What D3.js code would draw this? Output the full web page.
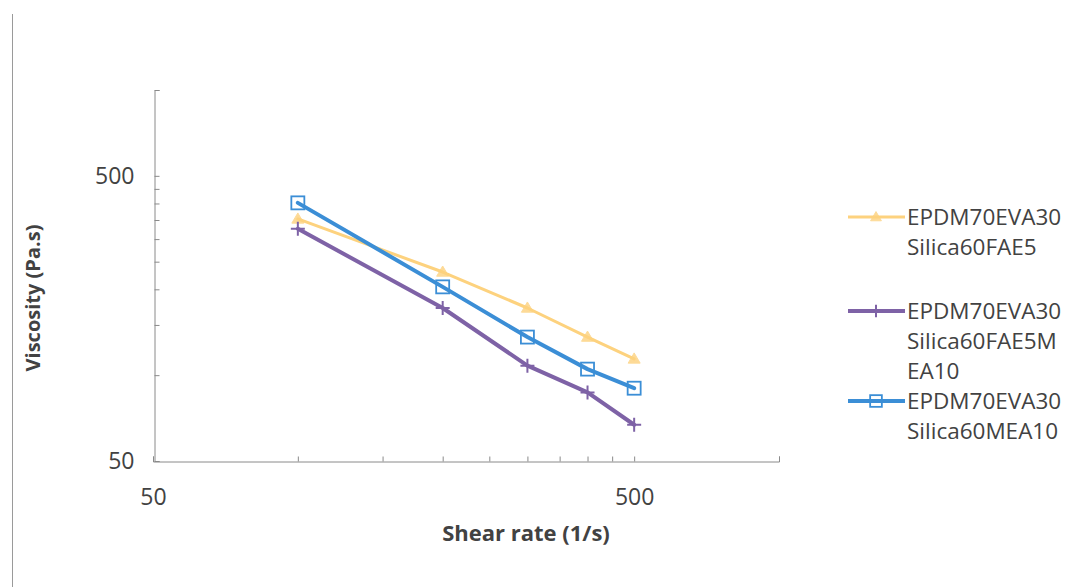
<!DOCTYPE html>
<html>
<head>
<meta charset="utf-8">
<script src="https://cdn.jsdelivr.net/npm/d3@7"></script>
<style>
  html, body { margin: 0; padding: 0; background: #fff; }
  svg { display: block; font-family: "Open Sans", "Noto Sans", sans-serif; }
</style>
</head>
<body>
<svg id="chart" width="1068" height="587"></svg>
<script>
// Shear rates (1/s) at which viscosity was measured
const shearRates = [100, 200, 300, 400, 500];

// Series names (legend lines) and viscosity values in Pa.s
const seriesNames = [
  ["EPDM70EVA30", "Silica60FAE5"],
  ["EPDM70EVA30", "Silica60FAE5M", "EA10"],
  ["EPDM70EVA30", "Silica60MEA10"]
];
const viscFAE5      = [353, 230, 172, 136, 114];
const viscFAE5MEA10 = [326, 172, 108, 87, 67];
const viscMEA10     = [402, 204, 136, 105, 90];

// Axis ticks: labelled majors and Excel-style minor ticks on the log axes
const majorTicks = [50, 500];
const minorTicks = [100, 150, 200, 250, 300, 350, 400, 450, 1000];
const axisMin = 50, axisMax = 1000;

const xTitle = "Shear rate (1/s)";
const yTitle = "Viscosity (Pa.s)";

const styles = [
  { color: "#fdd27e", width: 3, marker: "triangle" },
  { color: "#7e62a6", width: 4, marker: "plus" },
  { color: "#3b8ed6", width: 4, marker: "square" }
];
const seriesValues = [viscFAE5, viscFAE5MEA10, viscMEA10];

const svg = d3.select("#chart");
const textColor = "#424242";
const axisColor = "#8a8a8a";

// left border rule
svg.append("line")
  .attr("x1", 12.5).attr("x2", 12.5).attr("y1", 14).attr("y2", 587)
  .attr("stroke", "#9a9a9a").attr("stroke-width", 1);

const x = d3.scaleLog().domain([axisMin, axisMax]).range([153, 779]);
const y = d3.scaleLog().domain([axisMin, axisMax]).range([461, 90]);

const allTicks = majorTicks.concat(minorTicks);
const fmt = d => majorTicks.includes(d) ? String(d) : "";

// X axis
const gx = svg.append("g").attr("transform", "translate(0,461.5)")
  .call(d3.axisBottom(x).tickValues(allTicks).tickFormat(fmt)
    .tickSizeInner(-5).tickSizeOuter(-5).tickPadding(27));
gx.select(".domain").attr("stroke", axisColor);
gx.selectAll(".tick line").attr("stroke", axisColor);
gx.selectAll(".tick text").attr("fill", textColor)
  .style("font-size", "23px").style("font-family", "Open Sans");

// Y axis
const gy = svg.append("g").attr("transform", "translate(154.5,0)")
  .call(d3.axisLeft(y).tickValues(allTicks).tickFormat(fmt)
    .tickSizeInner(-5).tickSizeOuter(-5).tickPadding(20));
gy.select(".domain").attr("stroke", axisColor);
gy.selectAll(".tick line").attr("stroke", axisColor);
gy.selectAll(".tick text").attr("fill", textColor)
  .style("font-size", "23px").style("font-family", "Open Sans");

// Axis titles
svg.append("text")
  .attr("x", 526).attr("y", 541)
  .attr("text-anchor", "middle")
  .attr("fill", textColor)
  .style("font-size", "22px").style("font-weight", "bold")
  .text(xTitle);

svg.append("text")
  .attr("transform", "translate(40,298) rotate(-90)")
  .attr("text-anchor", "middle")
  .attr("fill", textColor)
  .style("font-size", "20px").style("font-weight", "bold")
  .text(yTitle);

// Marker shapes
function drawMarker(g, type, color, cx, cy, scale) {
  const s = scale || 1;
  if (type === "triangle") {
    const h = 6 * s;
    g.append("path")
      .attr("d", `M${cx},${cy - h} L${cx + h},${cy + h * 0.7} L${cx - h},${cy + h * 0.7}Z`)
      .attr("fill", color).attr("stroke", color).attr("stroke-width", 1).attr("opacity", 0.8);
  } else if (type === "plus") {
    const h = 7 * s;
    g.append("path")
      .attr("d", `M${cx - h},${cy} L${cx + h},${cy} M${cx},${cy - h} L${cx},${cy + h}`)
      .attr("stroke", color).attr("stroke-width", 2);
  } else if (type === "square") {
    const h = 6.5 * s;
    g.append("rect")
      .attr("x", cx - h).attr("y", cy - h).attr("width", 2 * h).attr("height", 2 * h)
      .attr("fill", "none").attr("stroke", color).attr("stroke-width", 1.8);
  }
}

// Series lines and markers
const line = d3.line().x(d => x(d[0])).y(d => y(d[1]));
seriesValues.forEach((vals, i) => {
  const st = styles[i];
  const pts = shearRates.map((r, j) => [r, vals[j]]);
  const g = svg.append("g");
  g.append("path").datum(pts)
    .attr("d", line)
    .attr("fill", "none")
    .attr("stroke", st.color)
    .attr("stroke-width", st.width)
    .attr("stroke-linejoin", "round")
    .attr("stroke-linecap", "round");
  pts.forEach(p => drawMarker(g, st.marker, st.color, x(p[0]), y(p[1])));
});

// Legend
const legendRows = [217, 311, 401];
const lineH = 30;
seriesNames.forEach((names, i) => {
  const st = styles[i];
  const ly = legendRows[i];
  const g = svg.append("g");
  g.append("line")
    .attr("x1", 848).attr("x2", 905).attr("y1", ly).attr("y2", ly)
    .attr("stroke", st.color).attr("stroke-width", st.width);
  drawMarker(g, st.marker, st.color, 876, ly, 0.9);
  names.forEach((t, k) => {
    g.append("text")
      .attr("x", 907).attr("y", ly + k * lineH)
      .attr("dy", "0.36em")
      .attr("fill", textColor)
      .style("font-size", "22.5px")
      .text(t);
  });
});
</script>
</body>
</html>
